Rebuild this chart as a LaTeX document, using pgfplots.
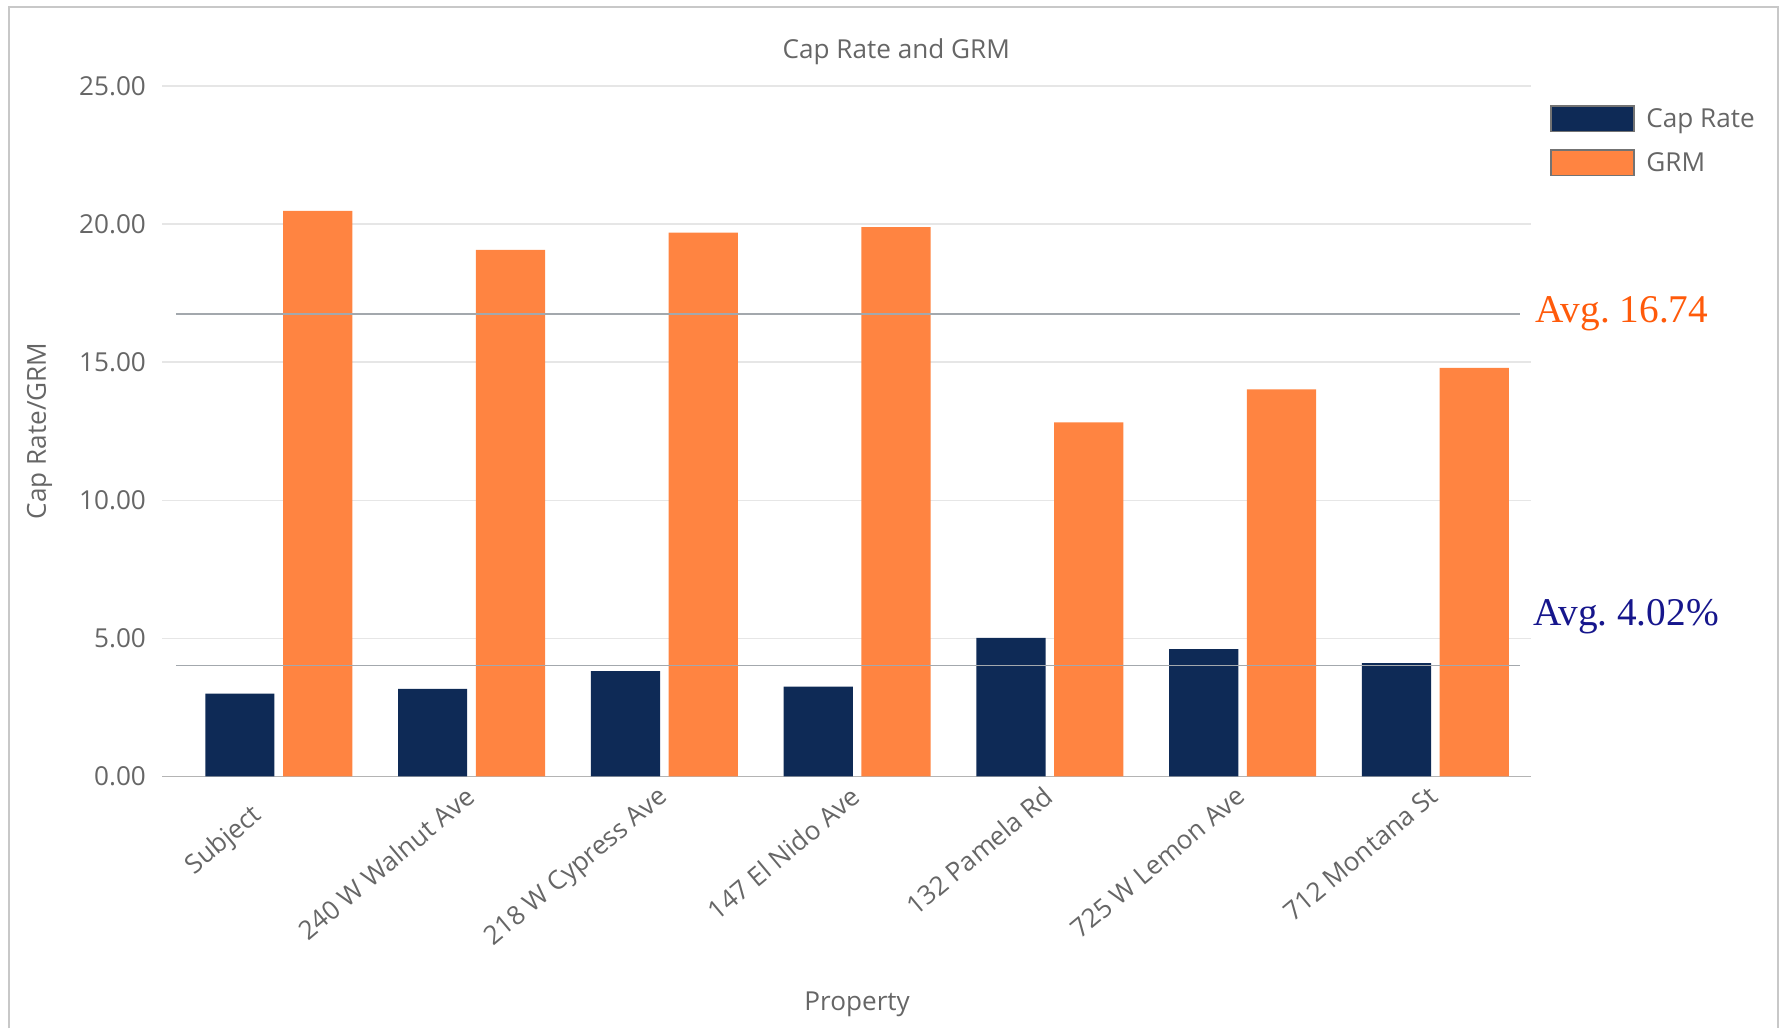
\documentclass[border=0pt]{standalone}
\usepackage{fontspec}
\setmainfont{Open Sans}
\newfontfamily\notefont{Liberation Serif}
\usepackage{pgfplots}
\usepackage{pgfplotstable}
\pgfplotsset{compat=1.18}

\definecolor{capnavy}{HTML}{0E2A56}
\definecolor{grmorange}{HTML}{FF8441}
\definecolor{textgray}{HTML}{666666}
\definecolor{gridgray}{HTML}{E6E6E6}
\definecolor{basegray}{HTML}{B4B4B4}
\definecolor{avgline}{HTML}{A3A8AD}
\definecolor{framegray}{HTML}{C8C8C8}
\definecolor{avgorange}{HTML}{FF5A0A}
\definecolor{avgnavy}{HTML}{16168C}

% Cap rate (%) and gross rent multiplier per property
\pgfplotstableread{
idx cap  grm
0   3.00 20.49
1   3.17 19.07
2   3.82 19.70
3   3.25 19.90
4   5.02 12.83
5   4.61 14.02
6   4.11 14.80
}\ratetable

\newcommand\chartfont{\fontsize{11.5}{13.8}\selectfont}

\begin{document}
\begin{tikzpicture}
\begin{axis}[
  scale only axis,
  width=603pt, height=304pt,
  xmin=-0.6042, xmax=6.498,
  ymin=0, ymax=25,
  ybar,
  bar width=0.359,
  clip=false,
  axis x line*=bottom,
  axis y line*=left,
  x axis line style={basegray, line width=0.75pt},
  y axis line style={draw=none},
  major tick length=0pt,
  ytick={0,5,10,15,20,25},
  ymajorgrids,
  grid style={gridgray, line width=0.75pt},
  /pgf/number format/fixed,
  /pgf/number format/fixed zerofill,
  /pgf/number format/precision=2,
  /pgf/number format/assume math mode=true,
  yticklabel style={font=\chartfont, text=textgray, xshift=-3.7pt},
  xtick={0,...,6},
  xticklabels={Subject\hspace*{12pt}, 240 W Walnut Ave, 218 W Cypress Ave,
    147 El Nido Ave, 132 Pamela Rd, 725 W Lemon Ave, 712 Montana St},
  xticklabel style={rotate=40, anchor=north east, inner sep=0pt,
    xshift=-4.8pt, yshift=-0.5pt, font=\chartfont, text=textgray},
  legend image code/.code={
    \draw[#1, draw=black!55, line width=0.6pt] (0pt,-5.25pt) rectangle (36.5pt,6.05pt);},
  legend cell align=left,
  legend style={at={(1.0136,0.9733)}, anchor=north west, draw=none, fill=none,
    inner sep=0pt, font=\chartfont, text=textgray, row sep=7.5pt,
    nodes={inner sep=0pt},
    /tikz/every odd column/.append style={column sep=5.15pt}},
]
\addplot[fill=capnavy, draw=none, bar shift=-0.202] table[x=idx, y=cap] {\ratetable};
\addplot[fill=grmorange, draw=none, bar shift=0.202] table[x=idx, y=grm] {\ratetable};
\legend{Cap Rate, GRM}

% averages of the six comparables
\addplot[sharp plot, avgline, line width=0.75pt, forget plot]
  coordinates {(-0.5336,16.74) (6.440,16.74)};
\addplot[sharp plot, avgline, line width=0.75pt, forget plot]
  coordinates {(-0.5336,4.02) (6.440,4.02)};

\node[anchor=base west, inner sep=0pt, text=avgorange,
  font=\notefont\fontsize{17.3}{20}\selectfont] at (axis cs:6.517,16.435) {Avg.\ 16.74};
\node[anchor=base west, inner sep=0pt, text=avgnavy,
  font=\notefont\fontsize{17.3}{20}\selectfont] at (axis cs:6.504,5.485) {Avg.\ 4.02\%};

\node[anchor=base, inner sep=0pt, font=\chartfont, text=textgray]
  at (rel axis cs:0.5361,1.0396) {Cap Rate and GRM};
\node[rotate=90, anchor=center, inner sep=0pt, font=\chartfont, text=textgray]
  at (rel axis cs:-0.0896,0.5008) {Cap Rate/GRM};
\node[anchor=center, inner sep=0pt, font=\chartfont, text=textgray]
  at (rel axis cs:0.5075,-0.3306) {Property};

\coordinate (bbsw) at (rel axis cs:-0.11857,-0.36513);
\coordinate (bbne) at (rel axis cs:1.18159,1.125);
\coordinate (frsw) at (rel axis cs:-0.1119,-0.36513);
\coordinate (frnw) at (rel axis cs:-0.1119,1.11513);
\coordinate (frne) at (rel axis cs:1.18035,1.11513);
\coordinate (frse) at (rel axis cs:1.18035,-0.36513);
\end{axis}
\draw[framegray, line width=1pt] (frsw) -- (frnw) -- (frne) -- (frse);
\pgfresetboundingbox
\path (bbsw) rectangle (bbne);
\end{tikzpicture}
\end{document}
